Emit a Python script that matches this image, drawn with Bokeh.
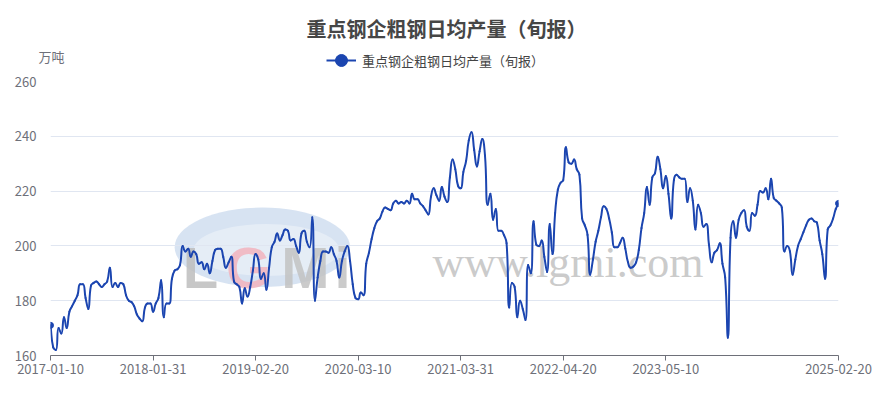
import calendar
import math
from bokeh.plotting import figure
from bokeh.layouts import column
from bokeh.models import Range1d, FixedTicker, Label, Legend, LegendItem
from bokeh.embed import file_html
from bokeh.resources import INLINE

# ---------------- data ----------------
title_text = "重点钢企粗钢日均产量（旬报）"
series_name = "重点钢企粗钢日均产量（旬报）"
y_unit = "万吨"
first_date = (2017, 1)
tick_labels = ["2017-01-10", "2018-01-31", "2019-02-20", "2020-03-10",
               "2021-03-31", "2022-04-20", "2023-05-10", "2025-02-20"]
y_ticks = [160, 180, 200, 220, 240, 260]

output = [
    171, 163, 162, 170, 168, 174, 170, 176, 178, 180,
    182, 186, 186, 181, 177, 185.5, 186.5, 187, 186, 185,
    186, 187, 192, 185, 186.5, 185, 186.5, 186, 182, 180,
    179.5, 178, 175, 173.5, 172.5, 177.5, 179, 179, 176, 179,
    181, 187.5, 174, 179, 179, 188, 191, 191.5, 193, 200,
    198, 199, 196, 198, 197, 193.5, 194, 191.5, 193.5, 190,
    194.5, 198.5, 199, 199, 196, 192, 194, 196, 187, 186,
    185, 179, 184.5, 181.5, 185, 191, 197, 195, 188, 190,
    184, 192, 199.5, 201.5, 204.5, 202, 204, 206, 205.5, 202,
    202.5, 200, 197.5, 204.5, 205.5, 201.5, 199.5, 210.5, 180, 188.5,
    194.5, 198, 198, 197.5, 199.5, 197, 194.5, 188.5, 194.5, 198,
    200, 194.5, 186, 181, 180.5, 183, 182, 193.5, 197.5, 202.5,
    206.5, 209, 210, 212.5, 214, 213.5, 213, 215.5, 216.5, 215.5,
    216, 215.5, 216.5, 215.5, 219, 217, 217, 215.5, 214.5, 213,
    211.5, 218, 221, 218.5, 216.5, 221.5, 218, 216, 225, 231.5,
    228, 222, 221, 227, 231, 238.5, 241.5, 235, 229, 234.5,
    239, 233, 215, 219, 209.5, 213.5, 205.5, 205.5, 204, 201,
    177.5, 186.5, 185, 174, 180, 177, 173, 193, 190, 209,
    200.5, 200, 202, 196, 190.5, 208, 197, 212, 220.5, 223,
    224, 236, 230.5, 230, 231.5, 228, 226, 210, 207.5, 204,
    189.5, 195, 201.5, 205.5, 210.5, 214.5, 213.5, 210, 205, 199.5,
    199.5, 201, 203, 199, 194, 192, 192.5, 194, 198.5, 206.5,
    212, 221.5, 215, 225, 226.5, 232.5, 228, 221, 225.5, 219,
    210, 224, 226, 225, 224.5, 224.5, 216, 221, 216.5, 206,
    215, 212, 207, 208, 200.5, 194, 197.5, 198.5, 201, 193.5,
    188.5, 166.5, 203, 209, 203, 209.5, 212, 213, 207, 205.5,
    212, 211, 215, 220, 219.5, 221, 217, 224.5, 217.5, 216.5,
    215.5, 214, 198, 200, 198, 189.5, 195, 200, 202.5, 205,
    207.5, 209.5, 210, 209, 208.5, 202, 197, 188, 206, 207.5,
    210, 213.5, 215.5,
]

# dekad category labels (10th, 20th, month end)
dates = []
yy, mm = first_date
while len(dates) < len(output):
    for dd in (10, 20, calendar.monthrange(yy, mm)[1]):
        dates.append(f"{yy:04d}-{mm:02d}-{dd:02d}")
    mm += 1
    if mm > 12:
        mm, yy = 1, yy + 1
dates = dates[:len(output)]
xs = list(range(len(dates)))
tick_idx = [dates.index(t) for t in tick_labels]

# ---------------- style ----------------
LINE = "#1b45b0"
FONT = "Noto Sans CJK SC"
AXIS_TXT = "#6E7079"

PAGE_W = 889
HDR_H = 70
W, H = PAGE_W, 323
ML, MR, MT, MB = 50, 51, 11, 38
frame_w, frame_h = W - ML - MR, H - MT - MB
SX = frame_w / (len(xs) - 1)                   # px per category step
SY = frame_h / (y_ticks[-1] - y_ticks[0])      # px per unit

# ---- smooth curve (echarts-like bezier smoothing, computed in pixel space) ----
def smooth_segments(xv, yv, s=0.5):
    px = [v * SX for v in xv]
    py = [v * SY for v in yv]
    n = len(px)
    c_out, c_in = [None] * n, [None] * n
    clamp = lambda v, a, b: max(min(v, max(a, b)), min(a, b))
    for i in range(n):
        x, y = px[i], py[i]
        xp, yp = (px[i - 1], py[i - 1]) if i > 0 else (x, y)
        xn, yn = (px[i + 1], py[i + 1]) if i < n - 1 else (x, y)
        vx, vy = xn - xp, yn - yp
        l0 = math.hypot(x - xp, y - yp)
        l1 = math.hypot(xn - x, yn - y)
        r = l1 / (l0 + l1) if (l0 + l1) > 0 else 0
        c0x, c0y = x + vx * s * r, y + vy * s * r
        c1x, c1y = x - vx * s * (1 - r), y - vy * s * (1 - r)
        c0x, c0y = clamp(c0x, x, xn), clamp(c0y, y, yn)
        c1x, c1y = clamp(c1x, x, xp), clamp(c1y, y, yp)
        if l0 > 0 and l1 > 0:
            ax, ay = c0x - x, c0y - y
            c1x, c1y = clamp(x - ax * l0 / l1, x, xp), clamp(y - ay * l0 / l1, y, yp)
            bx, by = x - c1x, y - c1y
            c0x, c0y = clamp(x + bx * l1 / l0, x, xn), clamp(y + by * l1 / l0, y, yn)
        c_out[i], c_in[i] = (c0x, c0y), (c1x, c1y)
    seg = dict(x0=[], y0=[], x1=[], y1=[], cx0=[], cy0=[], cx1=[], cy1=[])
    for i in range(n - 1):
        seg["x0"].append(xv[i]); seg["y0"].append(yv[i])
        seg["x1"].append(xv[i + 1]); seg["y1"].append(yv[i + 1])
        seg["cx0"].append(c_out[i][0] / SX); seg["cy0"].append(c_out[i][1] / SY)
        seg["cx1"].append(c_in[i + 1][0] / SX); seg["cy1"].append(c_in[i + 1][1] / SY)
    return seg

# ---------------- header (title, legend, unit) ----------------
hdr = figure(width=PAGE_W, height=HDR_H, output_backend="svg", toolbar_location=None,
             x_range=Range1d(0, PAGE_W), y_range=Range1d(HDR_H, 0),
             x_axis_type=None, y_axis_type=None, min_border=0)
hdr.frame_align = False
hdr.title = None
hdr.outline_line_color = None
hdr.grid.visible = False
hdr.add_layout(Label(x=446, y=28, text=title_text, text_font=FONT, text_font_size="20px",
                     text_font_style="bold", text_color="#464646",
                     text_align="center", text_baseline="middle"))
hdr.add_layout(Label(x=51, y=56, text=y_unit, text_font=FONT, text_font_size="13px",
                     text_color=AXIS_TXT, text_align="center", text_baseline="middle"))
# legend swatch renderers: one point each, placed off the header's visible range
leg_line = hdr.line([-100, -90], [-100, -100], line_color=LINE, line_width=2)
leg_dot = hdr.scatter([-100], [-100], size=12, fill_color=LINE, line_color=LINE)
legend = Legend(items=[LegendItem(label=series_name, renderers=[leg_line, leg_dot])],
                location=(326, HDR_H - 60 - 15), orientation="horizontal",
                glyph_width=30, glyph_height=30, label_height=30, label_standoff=6,
                padding=0, margin=0, spacing=0,
                border_line_color=None, background_fill_alpha=0,
                label_text_font=FONT, label_text_font_size="13px", label_text_color="#444444")
hdr.add_layout(legend, "center")

# ---------------- main chart ----------------
p = figure(width=W, height=H, output_backend="svg", toolbar_location=None,
           x_range=Range1d(0, len(xs) - 1), y_range=Range1d(y_ticks[0], y_ticks[-1]),
           min_border_left=ML, min_border_right=MR, min_border_top=MT, min_border_bottom=MB)
p.frame_align = False
p.title = None
p.outline_line_color = None

# watermark (behind the line)
p.ellipse(x=[78.5], y=[199.5], width=[65], height=[29], fill_color="#c9daee",
          fill_alpha=0.75, line_color=None, level="underlay")
p.ellipse(x=[80], y=[198.5], width=[54], height=[19], fill_color="white",
          fill_alpha=0.35, line_color=None, level="underlay")
for txt, fx, col in [("L", 150, "#bdbdbd"), ("G", 198, "#f2b3bd"), ("M", 255, "#c2c2c2"), ("i", 292, "#c2c2c2")]:
    p.add_layout(Label(x=fx, y=88, x_units="screen", y_units="screen", text=txt,
                       text_font="Liberation Sans", text_font_size="58px", text_font_style="bold",
                       text_color=col, text_alpha=0.85, text_align="center",
                       text_baseline="alphabetic", level="underlay"))
p.add_layout(Label(x=382, y=93, x_units="screen", y_units="screen", text="www.lgmi.com",
                   text_font="Liberation Serif", text_font_size="44px",
                   text_color="#bdbdbd", text_alpha=0.8, text_align="left",
                   text_baseline="alphabetic", level="underlay"))

seg = smooth_segments(xs, output)
p.bezier(x0=seg["x0"], y0=seg["y0"], x1=seg["x1"], y1=seg["y1"],
         cx0=seg["cx0"], cy0=seg["cy0"], cx1=seg["cx1"], cy1=seg["cy1"],
         line_color=LINE, line_width=2, line_cap="round")
p.scatter([xs[0], xs[-1]], [output[0], output[-1]], size=6, fill_color=LINE, line_color=LINE)

p.xgrid.grid_line_color = None
p.ygrid.grid_line_color = "#E0E6F1"
p.ygrid.ticker = FixedTicker(ticks=y_ticks)

p.yaxis.ticker = FixedTicker(ticks=y_ticks)
p.yaxis.axis_line_color = None
p.yaxis.major_tick_line_color = None
p.yaxis.minor_tick_line_color = None
p.yaxis.major_label_text_font = FONT
p.yaxis.major_label_text_font_size = "13px"
p.yaxis.major_label_text_color = AXIS_TXT
p.yaxis.major_label_standoff = 8

p.xaxis.ticker = FixedTicker(ticks=tick_idx)
p.xaxis.major_label_overrides = {i: t for i, t in zip(tick_idx, tick_labels)}
p.xaxis.axis_line_color = AXIS_TXT
p.xaxis.major_tick_line_color = AXIS_TXT
p.xaxis.major_tick_out = 5
p.xaxis.major_tick_in = 0
p.xaxis.minor_tick_line_color = None
p.xaxis.major_label_text_font = FONT
p.xaxis.major_label_text_font_size = "13px"
p.xaxis.major_label_text_color = AXIS_TXT
p.xaxis.major_label_standoff = 3

layout = column(hdr, p, spacing=0)
open("out.html", "w").write(file_html(layout, INLINE))
